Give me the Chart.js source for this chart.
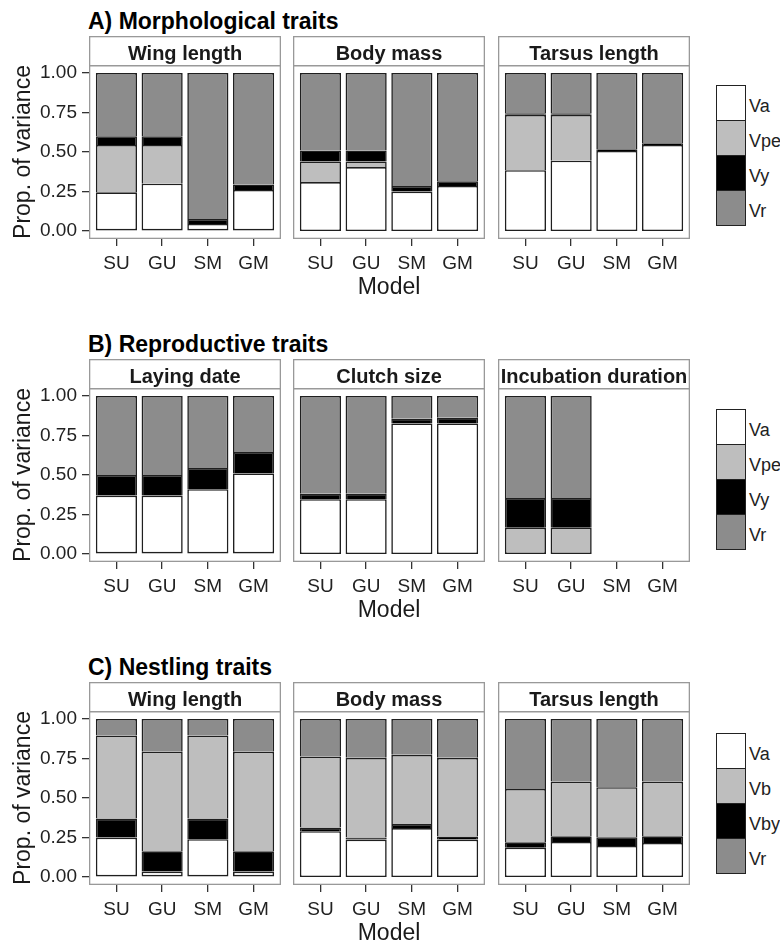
<!DOCTYPE html>
<html><head><meta charset="utf-8">
<script src="https://cdn.jsdelivr.net/npm/chart.js@4.4.0/dist/chart.umd.min.js"></script>
<style>
html,body{margin:0;padding:0;background:#fff;overflow:hidden;width:780px;height:945px;}
body{position:relative;font-family:"Liberation Sans",Arial,sans-serif;}
canvas{position:absolute;}
.sec{position:absolute;left:88px;font-weight:bold;font-size:23px;line-height:23px;color:#000;white-space:nowrap;}
.leg{position:absolute;left:716px;width:28px;border:1.3px solid #222;}
.key{height:35px;border-top:1px solid #222;box-sizing:border-box;}
.key:first-child{border-top:none;height:34px;}
.lab{position:absolute;left:749px;font-size:18px;line-height:35px;height:35px;padding-top:4px;box-sizing:border-box;color:#222;white-space:nowrap;}
</style></head><body>
<script>
const MODELS=['SU','GU','SM','GM'];
const Y_TICKS=[0,0.25,0.5,0.75,1];
const KEYS_AB=['Va','Vpe','Vy','Vr'];
const KEYS_C=['Va','Vb','Vby','Vr'];

// A) Morphological traits
const wingA_Va=[0.245,0.300,0.045,0.260], wingA_Vpe=[0.300,0.245,0,0], wingA_Vy=[0.055,0.055,0.032,0.035], wingA_Vr=[0.400,0.400,0.923,0.705];
const massA_Va=[0.310,0.405,0.250,0.285], massA_Vpe=[0.130,0.035,0,0], massA_Vy=[0.070,0.070,0.035,0.030], massA_Vr=[0.490,0.490,0.715,0.685];
const tarsA_Va=[0.385,0.445,0.507,0.545], tarsA_Vpe=[0.350,0.290,0,0], tarsA_Vy=[0.010,0.010,0.010,0.010], tarsA_Vr=[0.255,0.255,0.483,0.445];
// B) Reproductive traits
const layB_Va=[0.370,0.370,0.410,0.510], layB_Vpe=[0,0,0,0], layB_Vy=[0.130,0.130,0.135,0.135], layB_Vr=[0.500,0.500,0.455,0.355];
const cluB_Va=[0.347,0.347,0.826,0.826], cluB_Vpe=[0,0,0,0], cluB_Vy=[0.035,0.035,0.030,0.036], cluB_Vr=[0.618,0.618,0.144,0.138];
const incB_Va=[0,0,null,null], incB_Vpe=[0.167,0.167,null,null], incB_Vy=[0.187,0.187,null,null], incB_Vr=[0.646,0.646,null,null];
// C) Nestling traits
const wingC_Va=[0.250,0.035,0.240,0.035], wingC_Vb=[0.525,0.630,0.525,0.630], wingC_Vby=[0.120,0.128,0.130,0.128], wingC_Vr=[0.105,0.207,0.105,0.207];
const massC_Va=[0.290,0.237,0.310,0.237], massC_Vb=[0.450,0.504,0.438,0.497], massC_Vby=[0.023,0.013,0.025,0.020], massC_Vr=[0.237,0.246,0.227,0.246];
const tarsC_Va=[0.186,0.222,0.197,0.216], tarsC_Vb=[0.337,0.346,0.316,0.346], tarsC_Vby=[0.034,0.036,0.055,0.042], tarsC_Vr=[0.443,0.396,0.432,0.396];

const FILL={Va:'#ffffff',Vpe:'#bebebe',Vb:'#bebebe',Vy:'#000000',Vby:'#000000',Vr:'#8c8c8c'};
Chart.defaults.font.family='"Liberation Sans", Arial, sans-serif';

const ROWS=[
  {title:'A) Morphological traits',top:36,legTop:85,keys:KEYS_AB,stack:['Va','Vpe','Vy','Vr'],facets:[
    ['Wing length',{Va:wingA_Va,Vpe:wingA_Vpe,Vy:wingA_Vy,Vr:wingA_Vr}],
    ['Body mass',{Va:massA_Va,Vpe:massA_Vpe,Vy:massA_Vy,Vr:massA_Vr}],
    ['Tarsus length',{Va:tarsA_Va,Vpe:tarsA_Vpe,Vy:tarsA_Vy,Vr:tarsA_Vr}]]},
  {title:'B) Reproductive traits',top:359,legTop:409,keys:KEYS_AB,stack:['Va','Vpe','Vy','Vr'],facets:[
    ['Laying date',{Va:layB_Va,Vpe:layB_Vpe,Vy:layB_Vy,Vr:layB_Vr}],
    ['Clutch size',{Va:cluB_Va,Vpe:cluB_Vpe,Vy:cluB_Vy,Vr:cluB_Vr}],
    ['Incubation duration',{Va:incB_Va,Vpe:incB_Vpe,Vy:incB_Vy,Vr:incB_Vr}]]},
  {title:'C) Nestling traits',top:682,legTop:733,keys:KEYS_C,stack:['Va','Vby','Vb','Vr'],facets:[
    ['Wing length',{Va:wingC_Va,Vb:wingC_Vb,Vby:wingC_Vby,Vr:wingC_Vr}],
    ['Body mass',{Va:massC_Va,Vb:massC_Vb,Vby:massC_Vby,Vr:massC_Vr}],
    ['Tarsus length',{Va:tarsC_Va,Vb:tarsC_Vb,Vby:tarsC_Vby,Vr:tarsC_Vr}]]}
];

const STRIP=29, PANEL=174, XAX=60, YAX=89, PW=192;
const COL_LEFT=[0,293,498];

// strip box + panel border (ggplot facet look)
const frame={id:'frame',afterDraw(c,args,o){
  const a=c.chartArea, x=c.ctx;
  x.save();
  x.strokeStyle='#999'; x.lineWidth=1.3;
  x.fillStyle='#fff'; x.fillRect(a.left,a.top-STRIP,a.width,STRIP);
  x.strokeRect(a.left+0.65,a.top-STRIP+0.65,a.width-1.3,STRIP);
  x.strokeRect(a.left+0.65,a.top+0.65,a.width-1.3,a.height-1.3);
  x.fillStyle='#1a1a1a'; x.font='bold 20px "Liberation Sans", Arial, sans-serif';
  x.textAlign='center'; x.textBaseline='alphabetic';
  x.fillText(o.text,(a.left+a.right)/2,a.top-5.5);
  x.restore();
}};

// skip the bottom edge unless this is the lowest visible segment
function skipEdge(ctx){
  const ds=ctx.chart.data.datasets;
  for(let k=0;k<ctx.datasetIndex;k++){const p=ds[k].data[ctx.dataIndex];if(p&&p.y>0)return 'bottom';}
  return false;
}

function facet(row,col,title,series){
  const first=col===0;
  const cv=document.createElement('canvas');
  cv.width=first?YAX+PW:PW; cv.height=STRIP+PANEL+XAX;
  cv.style.left=COL_LEFT[col]+'px'; cv.style.top=row.top+'px';
  document.body.appendChild(cv);
  new Chart(cv,{type:'bar',
    data:{datasets:row.stack.map(k=>({label:k,
      data:series[k].map((v,i)=>({x:i+1,y:v})),
      backgroundColor:FILL[k],borderColor:'#1f1f1f',borderWidth:1.6,borderSkipped:skipEdge,
      categoryPercentage:1,barPercentage:0.9}))},
    options:{responsive:false,animation:false,devicePixelRatio:1,
      layout:{padding:{top:STRIP,left:0,right:0,bottom:0}},
      plugins:{legend:{display:false},tooltip:{enabled:false},frame:{text:title}},
      scales:{
        x:{type:'linear',min:0.4,max:4.6,stacked:true,offset:false,
          afterBuildTicks:s=>{s.ticks=MODELS.map((m,i)=>({value:i+1}));},
          ticks:{callback:v=>MODELS[v-1],color:'#222',font:{size:19},padding:6,maxRotation:0,autoSkip:false},
          grid:{offset:false,drawOnChartArea:false,tickLength:7,tickColor:'#333',lineWidth:1.3},
          border:{display:false},
          title:{display:col===1,text:'Model',color:'#1a1a1a',font:{size:23,lineHeight:1},padding:{top:0,bottom:0}},
          afterFit:s=>{s.height=XAX;}},
        y:{display:first,min:-0.05,max:1.05,stacked:true,
          afterBuildTicks:s=>{s.ticks=Y_TICKS.map(v=>({value:v}));},
          ticks:{callback:v=>v.toFixed(2),color:'#222',font:{size:19},padding:5},
          grid:{drawOnChartArea:false,tickLength:7,tickColor:'#333',lineWidth:1.3},
          border:{display:false},
          title:{display:true,text:'Prop. of variance',color:'#1a1a1a',font:{size:23},padding:{top:9.5,bottom:0}},
          afterFit:s=>{if(first)s.width=YAX;}}
      }},
    plugins:[frame]});
}

ROWS.forEach(row=>{
  const h=document.createElement('div'); h.className='sec'; h.textContent=row.title;
  h.style.top=(row.top-26)+'px'; document.body.appendChild(h);
  row.facets.forEach((f,c)=>facet(row,c,f[0],f[1]));
  const leg=document.createElement('div'); leg.className='leg'; leg.style.top=row.legTop+'px';
  row.keys.forEach((k,i)=>{
    const d=document.createElement('div'); d.className='key'; d.style.background=FILL[k]; leg.appendChild(d);
    const l=document.createElement('div'); l.className='lab'; l.textContent=k;
    l.style.top=(row.legTop+i*35)+'px'; document.body.appendChild(l);
  });
  document.body.appendChild(leg);
});
</script>
</body></html>
